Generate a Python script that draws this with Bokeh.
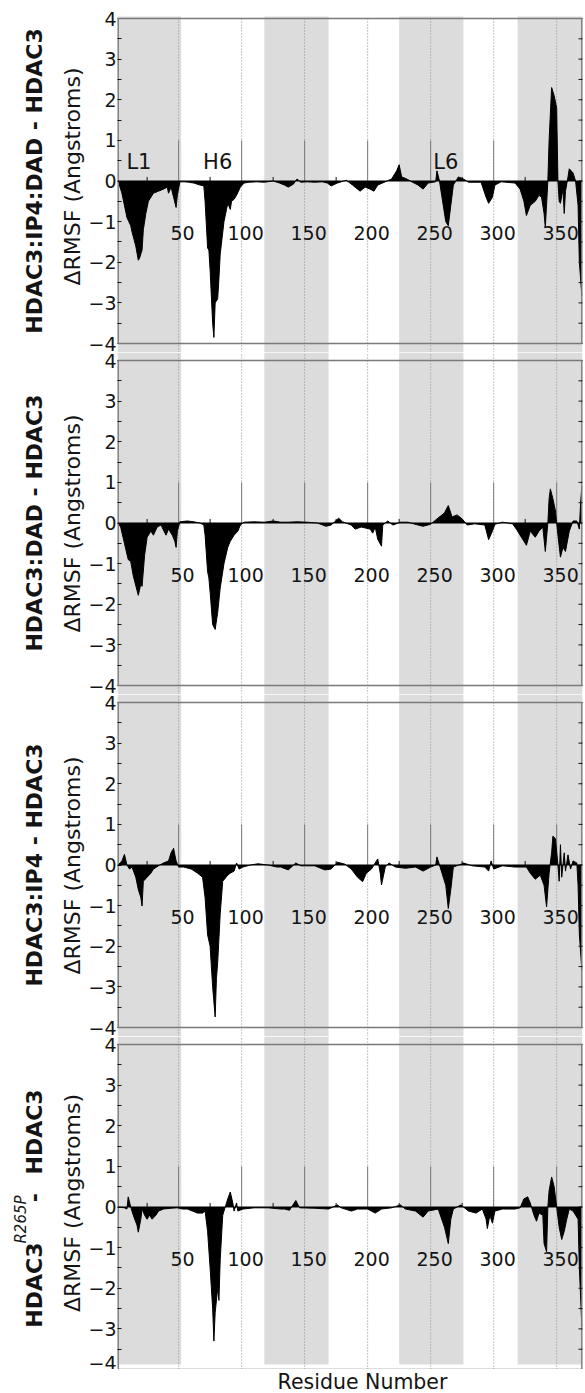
import math
from bokeh.plotting import figure
from bokeh.models import Range1d, FixedTicker, Span
from bokeh.layouts import column, row
from bokeh.embed import file_html
from bokeh.resources import INLINE
from bokeh.core.properties import value

# ---------------- data ----------------
residues_ip4_dad = [2, 5, 9, 12, 13, 16, 18, 19, 21, 22, 24, 26, 30, 34, 38, 41, 42, 44, 46, 48, 49,
                    51, 55, 58, 62, 67, 70, 71, 73, 74, 75, 77, 78, 79, 81, 82, 83, 86, 88, 89, 91,
                    92, 94, 96, 99, 102, 106, 112, 118, 125, 130, 134, 137, 141, 144, 147, 152, 158,
                    164, 168, 171, 176, 183, 188, 194, 198, 202, 205, 208, 214, 219, 223, 225, 227,
                    231, 235, 240, 244, 248, 254, 255, 257, 262, 264, 266, 268, 272, 276, 280, 290,
                    294, 296, 299, 301, 306, 317, 321, 324, 326, 329, 333, 336, 338, 340, 341, 343,
                    344, 346, 348, 350, 351, 352, 353, 355, 356, 357, 359, 360, 363, 365, 367, 368, 370]
drmsf_ip4_dad = [0.0, -0.3, -0.9, -1.1, -1.25, -1.6, -1.95, -1.9, -1.7, -1.2, -0.8, -0.5, -0.3, -0.25,
                 -0.2, -0.15, -0.3, -0.15, -0.4, -0.65, -0.35, -0.02, -0.02, -0.03, -0.05, -0.1, -0.12,
                 -0.5, -1.65, -1.7, -2.2, -3.5, -3.85, -3.0, -2.9, -2.4, -1.8, -1.0, -0.7, -0.55, -0.7,
                 -0.5, -0.45, -0.35, -0.15, -0.05, -0.03, -0.02, -0.03, 0.0, -0.05, -0.1, -0.15, -0.08,
                 0.05, -0.03, -0.02, -0.03, -0.02, -0.05, -0.12, -0.05, 0.02, -0.1, -0.25, -0.15, -0.2,
                 -0.25, -0.1, -0.02, 0.05, 0.25, 0.4, 0.1, 0.05, -0.02, -0.1, -0.2, -0.05, -0.02, 0.25,
                 0.0, -1.0, -1.1, -0.6, -0.1, 0.1, 0.05, -0.03, -0.03, -0.4, -0.55, -0.4, -0.1, -0.02,
                 -0.05, -0.2, -0.5, -0.85, -0.6, -0.5, -0.35, -0.4, -0.8, -1.15, 0.0, 1.0, 2.3, 2.1,
                 1.8, 0.0, -0.5, -0.55, -0.2, -0.8, -0.25, 0.1, 0.3, 0.2, 0.0, -0.6, -2.0, -2.83]

residues_dad = [2, 4, 7, 10, 12, 14, 18, 20, 21, 23, 25, 28, 30, 33, 36, 40, 42, 45, 47, 48, 49, 51,
                57, 62, 67, 70, 71, 73, 74, 75, 77, 79, 81, 83, 86, 89, 91, 94, 97, 99, 102, 110, 118,
                125, 131, 137, 144, 152, 160, 167, 171, 177, 180, 187, 190, 195, 202, 204, 206, 208,
                211, 212, 216, 220, 226, 232, 240, 244, 250, 255, 259, 261, 264, 267, 271, 275, 279,
                285, 293, 296, 299, 301, 307, 315, 318, 322, 326, 329, 333, 336, 339, 341, 343, 344,
                345, 347, 349, 351, 353, 355, 357, 360, 363, 366, 368, 369, 370]
drmsf_dad = [0.0, -0.1, -0.5, -0.9, -0.95, -1.3, -1.78, -1.5, -1.56, -0.8, -0.35, -0.2, -0.3, -0.1,
             -0.05, -0.3, -0.15, -0.3, -0.45, -0.6, -0.2, 0.03, 0.05, 0.03, 0.0, -0.05, -0.3, -1.2,
             -1.35, -1.7, -2.5, -2.62, -2.2, -1.6, -1.0, -0.6, -0.45, -0.3, -0.2, -0.05, 0.02, 0.03,
             0.02, 0.05, 0.02, 0.02, 0.03, 0.02, 0.0, -0.08, -0.05, 0.12, 0.03, -0.05, -0.15, -0.1,
             -0.15, -0.25, -0.1, -0.4, -0.57, -0.05, 0.05, -0.05, 0.02, 0.02, -0.05, -0.08, -0.03,
             0.1, 0.2, 0.25, 0.43, 0.15, 0.2, 0.1, -0.05, -0.02, -0.05, -0.41, -0.2, -0.03, 0.02,
             -0.02, -0.15, -0.35, -0.55, -0.2, -0.35, -0.2, -0.1, -0.7, 0.0, 0.6, 0.84, 0.6, 0.3,
             -0.3, -0.84, -0.6, -0.7, -0.2, 0.05, 0.05, -0.15, 0.5, 0.9]

residues_ip4 = [2, 5, 7, 9, 11, 13, 16, 18, 20, 21, 22, 25, 28, 30, 34, 38, 42, 44, 46, 48, 50, 54,
                60, 65, 69, 71, 73, 75, 77, 79, 80, 81, 83, 85, 89, 91, 94, 96, 98, 101, 107, 113,
                121, 128, 131, 137, 143, 147, 158, 166, 171, 176, 182, 187, 192, 196, 199, 203, 206,
                208, 210, 211, 214, 217, 222, 230, 238, 244, 250, 254, 255, 257, 262, 264, 266, 268,
                275, 276, 283, 293, 296, 298, 300, 307, 317, 326, 329, 333, 337, 340, 342, 344, 346,
                347, 349, 351, 352, 353, 354, 356, 357, 359, 361, 363, 366, 367, 368, 370]
drmsf_ip4 = [0.0, 0.1, 0.26, 0.0, -0.1, -0.05, -0.3, -0.6, -0.8, -1.01, -0.4, -0.3, -0.2, -0.1,
             -0.02, 0.05, 0.1, 0.3, 0.41, 0.1, -0.05, -0.05, -0.1, -0.2, -0.3, -0.8, -1.72, -2.0,
             -3.0, -3.74, -2.8, -2.4, -1.2, -0.4, -0.25, -0.2, -0.15, 0.05, -0.1, -0.05, 0.0, 0.03,
             0.0, -0.05, -0.05, -0.12, 0.05, -0.02, -0.02, -0.12, -0.1, 0.07, 0.02, -0.1, -0.3,
             -0.41, -0.2, -0.1, 0.05, 0.15, -0.2, -0.49, -0.05, 0.05, -0.05, -0.08, -0.05, -0.15,
             -0.05, 0.0, 0.2, 0.0, -0.5, -1.07, -0.6, -0.05, 0.03, 0.05, -0.02, -0.05, -0.15, 0.1,
             -0.1, -0.02, -0.05, -0.05, -0.2, -0.35, -0.25, -0.5, -1.03, -0.2, 0.3, 0.71, 0.65, 0.0,
             -0.4, 0.5, -0.3, 0.3, -0.15, 0.25, -0.1, 0.1, 0.05, -0.5, -1.7, -2.59]

residues_r265p = [2, 7, 9, 10, 12, 14, 17, 18, 20, 21, 23, 25, 27, 29, 32, 34, 38, 44, 49, 53, 57, 61,
                  65, 69, 71, 73, 75, 77, 78, 79, 81, 82, 83, 85, 87, 89, 91, 93, 94, 96, 97, 101,
                  110, 121, 131, 134, 138, 143, 146, 158, 169, 176, 179, 187, 192, 200, 206, 211, 219,
                  226, 230, 238, 244, 248, 256, 261, 264, 266, 268, 274, 276, 280, 286, 291, 294, 295,
                  297, 299, 301, 307, 317, 321, 324, 327, 329, 332, 334, 336, 339, 340, 342, 343, 344,
                  346, 348, 350, 352, 354, 356, 358, 360, 363, 365, 367, 368, 370]
drmsf_r265p = [0.0, -0.02, -0.05, 0.25, 0.0, -0.2, -0.45, -0.62, -0.3, -0.05, -0.2, -0.3, -0.2, -0.3,
               -0.2, -0.1, -0.05, -0.03, -0.02, -0.05, -0.05, -0.1, -0.15, -0.15, -0.1, -0.6, -1.5,
               -2.5, -3.3, -2.6, -2.0, -2.3, -1.3, -0.2, 0.0, 0.2, 0.37, 0.1, -0.1, 0.1, -0.1, -0.05,
               -0.02, -0.02, -0.05, -0.05, -0.08, 0.16, -0.02, -0.03, -0.05, 0.05, -0.02, -0.1, -0.05,
               -0.05, -0.15, -0.05, -0.02, 0.05, -0.05, -0.1, -0.25, -0.1, -0.05, -0.5, -0.9, -0.3,
               -0.05, 0.05, 0.0, -0.1, -0.15, -0.05, -0.3, -0.53, -0.2, -0.4, -0.1, -0.05, -0.05,
               -0.02, 0.2, 0.25, 0.1, -0.2, -0.35, -0.15, -0.2, -0.9, -1.1, 0.0, 0.4, 0.74, 0.5, 0.0,
               -0.5, -0.8, -0.6, -0.3, -0.05, -0.1, -0.2, -0.3, -1.5, -2.95]

panel_titles = ["HDAC3:IP4:DAD - HDAC3", "HDAC3:DAD - HDAC3", "HDAC3:IP4 - HDAC3", None]
# last panel title pieces: (text, style)
last_title = [("HDAC3", "bold"), ("R265P", "italic"), ("-", "bold"), ("HDAC3", "bold")]

band_starts = [1.5, 118, 225, 319]
band_ends = [52, 169, 276, 370.5]

x_major = [50, 100, 150, 200, 250, 300, 350]
x_minor = [25, 75, 125, 175, 225, 275, 325]
y_major = [-4, -3, -2, -1, 0, 1, 2, 3, 4]
y_minor = [-3.5, -2.5, -1.5, -0.5, 0.5, 1.5, 2.5, 3.5]

region_names = ["L1", "H6", "L6"]
region_x = [18.5, 81, 262]
region_y = [0.46, 0.46, 0.46]

# ---------------- styling ----------------
FONT = "DejaVu Sans"
INK = "#141414"
BAND = "#dcdcdc"
SPINE = "#7a7a7a"
GRID = "#8c8c8c"
PPU = 325 / 8.0
X_START, X_END = 1.5, 370.5
LAB_W = 50          # width of the strip holding the bold panel titles
MAIN_W = 534        # main figure width (frame right edge at 582)

series = [(residues_ip4_dad, drmsf_ip4_dad), (residues_dad, drmsf_dad),
          (residues_ip4, drmsf_ip4), (residues_r265p, drmsf_r265p)]
top_px = [18, 8, 8, 8]
bot_px = [9, 9, 9, 0]


def blank(width, height, xr, yr):
    f = figure(width=width, height=height, x_range=xr, y_range=yr, output_backend="svg",
               toolbar_location=None, x_axis_location=None, y_axis_location=None,
               min_border=0, outline_line_color=None, background_fill_color="white",
               border_fill_color="white")
    f.xgrid.visible = False
    f.ygrid.visible = False
    return f


rows = []
for i, (res, vals) in enumerate(series):
    lo = -4 - bot_px[i] / PPU
    hi = 4 + top_px[i] / PPU
    h = 325 + top_px[i] + bot_px[i]
    p = figure(width=MAIN_W, height=h, x_range=Range1d(X_START, X_END),
               y_range=Range1d(lo, hi), output_backend="svg", toolbar_location=None,
               x_axis_location=None, y_axis_location="left",
               min_border_left=117 - LAB_W, min_border_right=2, min_border_top=0,
               min_border_bottom=0, outline_line_color=None,
               background_fill_color="white", border_fill_color="white")
    p.xgrid.visible = False
    p.ygrid.visible = False

    if i == 0:
        bt, bb, gt, gb = 4 + 2 / PPU, lo, 4, lo
    elif i == 3:
        bt, bb, gt, gb = hi, -4 + 5 / PPU, hi, -4
    else:
        bt, bb, gt, gb = hi, lo, hi, lo
    p.quad(left=band_starts, right=band_ends, bottom=bb, top=bt,
           fill_color=BAND, line_color=None)
    p.segment(x0=x_major, y0=gb, x1=x_major, y1=gt, line_color=GRID,
              line_width=1, line_dash="1 2")
    p.segment(x0=x_major, y0=0, x1=x_major, y1=1, line_color=SPINE, line_width=1)
    p.segment(x0=x_minor, y0=0, x1=x_minor, y1=0.1, line_color=INK, line_width=1)
    p.text(x=x_major, y=0, text=[str(t) for t in x_major], x_offset=4, y_offset=52,
           text_align="center", text_baseline="middle", text_font=value(FONT),
           text_font_size="19px", text_color=INK)
    if i == 0:
        p.text(x=region_x, y=region_y, text=region_names, text_align="center",
               text_baseline="middle", text_font=value(FONT), text_font_size="21px",
               text_color=INK)

    p.varea(x=res, y1=0, y2=vals, fill_color="black")
    p.line(x=res, y=vals, line_color="black", line_width=1)
    p.add_layout(Span(location=0, dimension="width", line_color="black", line_width=1.2))

    # frame box
    p.add_layout(Span(location=4, dimension="width", line_color=SPINE, line_width=1.4))
    p.add_layout(Span(location=-4, dimension="width", line_color=SPINE, line_width=1.4))
    p.segment(x0=[X_START, X_END], y0=-4, x1=[X_START, X_END], y1=4,
              line_color=SPINE, line_width=2.8)
    # inward ticks on the right spine
    p.scatter(x=[X_END] * (len(y_major) + len(y_minor)), y=y_major + y_minor,
              marker="dash", size=8, line_color=INK, line_width=1)

    ax = p.yaxis[0]
    ax.ticker = FixedTicker(ticks=y_major, minor_ticks=y_minor)
    ax.axis_line_color = None
    ax.major_tick_in = 4
    ax.major_tick_out = 0
    ax.minor_tick_in = 4
    ax.minor_tick_out = 0
    ax.major_tick_line_color = INK
    ax.minor_tick_line_color = INK
    ax.major_label_text_font = FONT
    ax.major_label_text_font_size = "19px"
    ax.major_label_text_color = INK
    ax.major_label_standoff = 1
    ax.axis_label = "\u0394RMSF (Angstroms)"
    ax.axis_label_text_font = FONT
    ax.axis_label_text_font_style = "normal"
    ax.axis_label_text_font_size = "22px"
    ax.axis_label_text_color = INK
    ax.axis_label_standoff = 0

    # strip holding the bold title of the panel
    lab = blank(LAB_W, h, Range1d(0, LAB_W), Range1d(lo, hi))
    if panel_titles[i] is not None:
        lab.text(x=[33.5], y=[0], text=[panel_titles[i]], angle=math.pi / 2,
                 text_align="center", text_baseline="middle", text_font=value(FONT),
                 text_font_size="22px", text_font_style="bold", text_color=INK)
    else:
        t_x = [33.5, 20, 33.5, 33.5]
        t_y = [-2.97, -0.90, 0.23, 0.80]
        t_size = ["22px", "15px", "22px", "22px"]
        t_align = ["left", "left", "center", "left"]
        for (txt, style), xx, yy, sz, al in zip(last_title, t_x, t_y, t_size, t_align):
            lab.text(x=[xx], y=[yy], text=[txt], angle=math.pi / 2, text_align=al,
                     text_baseline="middle", text_font=value(FONT), text_font_size=sz,
                     text_font_style=style, text_color=INK)
    rows.append(row(lab, p, spacing=0))

# strip for the x-axis title
strip = blank(LAB_W + MAIN_W, 24, Range1d(0, LAB_W + MAIN_W), Range1d(0, 24))
strip.text(x=[362], y=[12], text=["Residue Number"], text_align="center",
           text_baseline="middle", text_font=value(FONT), text_font_size="20.5px",
           text_color=INK)
rows.append(strip)

layout = column(*rows, spacing=0)
open("out.html", "w").write(file_html(layout, INLINE))
